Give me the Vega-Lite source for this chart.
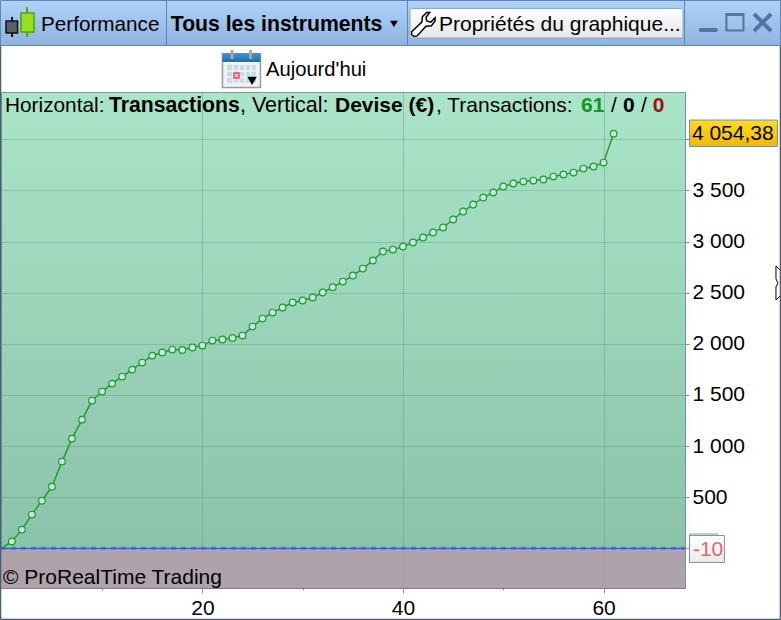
{
"$schema":"https://vega.github.io/schema/vega-lite/v6.json",
"width":684,"height":496,
"autosize":{"type":"none"},
"padding":{"left":1,"top":92,"right":96,"bottom":32},
"background":"#ffffff",
"data":{"values":[{"k":1}]},
"config":{"font":"Liberation Sans","text":{"font":"Liberation Sans","fontSize":21,"baseline":"alphabetic","align":"left","color":"#000000"},
 "view":{"stroke":"#74a08f","fill":{"gradient":"linear","x1":0,"y1":0,"x2":0,"y2":1,"stops":[{"offset":0,"color":"#aae4c9"},{"offset":1,"color":"#87c0a6"}]}}},
"datasets":{"equity":[
{"n":0,"v":0},{"n":1,"v":68},{"n":2,"v":183},{"n":3,"v":330},{"n":4,"v":466},{"n":5,"v":603},{"n":6,"v":848},{"n":7,"v":1073},{"n":8,"v":1259},{"n":9,"v":1445},{"n":10,"v":1533},{"n":11,"v":1611},{"n":12,"v":1680},{"n":13,"v":1748},{"n":14,"v":1817},{"n":15,"v":1885},{"n":16,"v":1915},{"n":17,"v":1944},{"n":18,"v":1940},{"n":19,"v":1964},{"n":20,"v":1983},{"n":21,"v":2032},{"n":22,"v":2042},{"n":23,"v":2058},{"n":24,"v":2081},{"n":25,"v":2169},{"n":26,"v":2247},{"n":27,"v":2306},{"n":28,"v":2355},{"n":29,"v":2404},{"n":30,"v":2424},{"n":31,"v":2453},{"n":32,"v":2502},{"n":33,"v":2554},{"n":34,"v":2609},{"n":35,"v":2668},{"n":36,"v":2736},{"n":37,"v":2815},{"n":38,"v":2903},{"n":39,"v":2922},{"n":40,"v":2952},{"n":41,"v":2991},{"n":42,"v":3040},{"n":43,"v":3089},{"n":44,"v":3138},{"n":45,"v":3216},{"n":46,"v":3294},{"n":47,"v":3363},{"n":48,"v":3431},{"n":49,"v":3480},{"n":50,"v":3539},{"n":51,"v":3568},{"n":52,"v":3587},{"n":53,"v":3597},{"n":54,"v":3607},{"n":55,"v":3636},{"n":56,"v":3656},{"n":57,"v":3675},{"n":58,"v":3714},{"n":59,"v":3734},{"n":60,"v":3773},{"n":61,"v":4054.38}]},
"layer":[
{"mark":{"type":"rect","fill":"#b69eac","opacity":0.85},"encoding":{
 "x":{"datum":-0.08,"type":"quantitative","title":null,"scale":{"domain":[-0.08,68.12],"nice":false,"zero":false},
  "axis":{"title":null,"orient":"bottom","values":[10,20,30,40,50,60],"grid":true,"gridColor":"#5f8f80","gridOpacity":{"condition":{"test":"datum.value%20==0","value":0.4},"value":0},
   "domainColor":"#857a82","tickColor":"#8a9aa0","tickSize":{"condition":{"test":"datum.value%20==0","value":5},"value":2},"labelFontSize":21,"labelColor":"#000000","labelPadding":4,"labelExpr":"datum.value%20==0?datum.label:''","labelOverlap":false,"labelFlush":false,"labelBound":false}},
 "x2":{"datum":68.12},
 "y":{"datum":-388,"type":"quantitative","title":null,"scale":{"domain":[-388,4463],"nice":false,"zero":false},
  "axis":{"title":null,"orient":"right","values":[500,1000,1500,2000,2500,3000,3500,4000],"grid":true,"gridColor":"#5f8f80","gridOpacity":0.35,
   "domainColor":"#6f9b8a","tickColor":"#6f9b8a","tickSize":4,"labelFontSize":21,"labelColor":"#000000","labelPadding":3,"labelExpr":"datum.value==4000?'':replace(format(datum.value,','),',',' ')","labelOverlap":false,"labelFlush":false,"labelBound":false}},
 "y2":{"datum":0}}},
{"mark":{"type":"rule","stroke":"#2fa35a","strokeWidth":1,"strokeDash":[5,5]},"encoding":{"x":{"datum":-0.08,"type":"quantitative"},"x2":{"datum":68.12},"y":{"datum":10,"type":"quantitative"}}},
{"mark":{"type":"rule","stroke":"#e0566a","strokeWidth":1,"strokeDash":[5,5]},"encoding":{"x":{"datum":-0.08,"type":"quantitative"},"x2":{"datum":68.12},"y":{"datum":-10,"type":"quantitative"}}},
{"mark":{"type":"rule","stroke":"#2a3de8","strokeWidth":1},"encoding":{"x":{"datum":-0.08,"type":"quantitative"},"x2":{"datum":68.12},"y":{"datum":0,"type":"quantitative"}}},
{"data":{"name":"equity"},"mark":{"type":"line","stroke":"#1a9e28","strokeWidth":1.4},"encoding":{"x":{"field":"n","type":"quantitative"},"y":{"field":"v","type":"quantitative"}}},
{"data":{"name":"equity"},"transform":[{"filter":"datum.n>0"}],"mark":{"type":"point","filled":false,"fill":"#cbe5e5","fillOpacity":1,"stroke":"#1a9e28","strokeWidth":1.2,"size":44,"opacity":1},"encoding":{"x":{"field":"n","type":"quantitative"},"y":{"field":"v","type":"quantitative"}}},

{"mark":{"type":"text","text":"© ProRealTime Trading","fontSize":21},"encoding":{"x":{"datum":0.12,"type":"quantitative"},"y":{"datum":-349,"type":"quantitative"}}},
{"mark":{"type":"text","text":"Horizontal:","fontSize":20.8},"encoding":{"x":{"datum":0.32,"type":"quantitative"},"y":{"datum":4267,"type":"quantitative"}}},
{"mark":{"type":"text","text":"Transactions","fontWeight":"bold","fontSize":21.2},"encoding":{"x":{"datum":10.69,"type":"quantitative"},"y":{"datum":4267,"type":"quantitative"}}},
{"mark":{"type":"text","text":", Vertical:","fontSize":21.5},"encoding":{"x":{"datum":23.75,"type":"quantitative"},"y":{"datum":4267,"type":"quantitative"}}},
{"mark":{"type":"text","text":"Devise (€)","fontWeight":"bold"},"encoding":{"x":{"datum":33.22,"type":"quantitative"},"y":{"datum":4267,"type":"quantitative"}}},
{"mark":{"type":"text","text":", Transactions:"},"encoding":{"x":{"datum":43.29,"type":"quantitative"},"y":{"datum":4267,"type":"quantitative"}}},
{"mark":{"type":"text","text":"61","fontWeight":"bold","color":"#0a9a1e"},"encoding":{"x":{"datum":57.75,"type":"quantitative"},"y":{"datum":4267,"type":"quantitative"}}},
{"mark":{"type":"text","text":"/"},"encoding":{"x":{"datum":60.74,"type":"quantitative"},"y":{"datum":4267,"type":"quantitative"}}},
{"mark":{"type":"text","text":"0","fontWeight":"bold"},"encoding":{"x":{"datum":61.93,"type":"quantitative"},"y":{"datum":4267,"type":"quantitative"}}},
{"mark":{"type":"text","text":"/"},"encoding":{"x":{"datum":63.73,"type":"quantitative"},"y":{"datum":4267,"type":"quantitative"}}},
{"mark":{"type":"text","text":"0","fontWeight":"bold","color":"#a01010"},"encoding":{"x":{"datum":64.9,"type":"quantitative"},"y":{"datum":4267,"type":"quantitative"}}},

{"mark":{"type":"rect","stroke":"#7f8f99","strokeWidth":1,"fill":{"gradient":"linear","x1":0,"y1":0,"x2":0,"y2":1,"stops":[{"offset":0,"color":"#ffdc1e"},{"offset":1,"color":"#f2b800"}]}},"encoding":{"x":{"datum":68.57,"type":"quantitative"},"x2":{"datum":77.34},"y":{"datum":4189,"type":"quantitative"},"y2":{"datum":3930}}},
{"mark":{"type":"text","text":"4 054,38"},"encoding":{"x":{"datum":68.81,"type":"quantitative"},"y":{"datum":3989,"type":"quantitative"}}},
{"mark":{"type":"rule","stroke":"#7f9099"},"encoding":{"x":{"datum":68.11,"type":"quantitative"},"x2":{"datum":68.57},"y":{"datum":0,"type":"quantitative"}}},
{"mark":{"type":"rect","stroke":"#8a9aa5","fill":"#ffffff"},"encoding":{"x":{"datum":68.57,"type":"quantitative"},"x2":{"datum":71.36},"y":{"datum":140,"type":"quantitative"},"y2":{"datum":32}}},
{"mark":{"type":"rect","stroke":"#7f9099","fill":{"gradient":"linear","x1":0,"y1":0,"x2":0,"y2":1,"stops":[{"offset":0,"color":"#ffffff"},{"offset":1,"color":"#ebebeb"}]}},"encoding":{"x":{"datum":68.57,"type":"quantitative"},"x2":{"datum":72.05},"y":{"datum":126,"type":"quantitative"},"y2":{"datum":-138}}},
{"mark":{"type":"text","text":"-10","color":"#e8636b"},"encoding":{"x":{"datum":68.91,"type":"quantitative"},"y":{"datum":-75,"type":"quantitative"}}},

{"mark":{"type":"rect","stroke":"#5f85b5","strokeWidth":1,"fill":{"gradient":"linear","x1":0,"y1":0,"x2":0,"y2":1,"stops":[{"offset":0,"color":"#b0d2fa"},{"offset":1,"color":"#8fb3df"}]}},"encoding":{"x":{"datum":-0.13,"type":"quantitative"},"x2":{"datum":77.64},"y":{"datum":5358,"type":"quantitative"},"y2":{"datum":4918}}},
{"mark":{"type":"rule","stroke":"#5f85b5"},"encoding":{"x":{"datum":16.42,"type":"quantitative"},"y":{"datum":5358,"type":"quantitative"},"y2":{"datum":4918}}},
{"mark":{"type":"rule","stroke":"#5f85b5"},"encoding":{"x":{"datum":40.45,"type":"quantitative"},"y":{"datum":5358,"type":"quantitative"},"y2":{"datum":4918}}},
{"mark":{"type":"rule","stroke":"#5f85b5"},"encoding":{"x":{"datum":68.07,"type":"quantitative"},"y":{"datum":5358,"type":"quantitative"},"y2":{"datum":4918}}},
{"mark":{"type":"rect","stroke":"#8aa8c8","cornerRadius":2,"fill":{"gradient":"linear","x1":0,"y1":0,"x2":0,"y2":1,"stops":[{"offset":0,"color":"#ffffff"},{"offset":1,"color":"#e6e6e6"}]}},"encoding":{"x":{"datum":40.7,"type":"quantitative"},"x2":{"datum":67.92},"y":{"datum":5280,"type":"quantitative"},"y2":{"datum":4991}}},
{"mark":{"type":"rule","stroke":"#111111","strokeWidth":2},"encoding":{"x":{"datum":1.02,"type":"quantitative"},"y":{"datum":5197,"type":"quantitative"},"y2":{"datum":5001}}},
{"mark":{"type":"rect","stroke":"#111111","strokeWidth":1.5,"fill":"#5a6068"},"encoding":{"x":{"datum":0.42,"type":"quantitative"},"x2":{"datum":1.57},"y":{"datum":5157,"type":"quantitative"},"y2":{"datum":5040}}},
{"mark":{"type":"rule","stroke":"#5aa00f","strokeWidth":2},"encoding":{"x":{"datum":2.51,"type":"quantitative"},"y":{"datum":5294,"type":"quantitative"},"y2":{"datum":5001}}},
{"mark":{"type":"rect","stroke":"#5aa00f","strokeWidth":1.5,"fill":"#93e020"},"encoding":{"x":{"datum":1.91,"type":"quantitative"},"x2":{"datum":3.21},"y":{"datum":5236,"type":"quantitative"},"y2":{"datum":5050}}},
{"mark":{"type":"text","text":"Performance","fontSize":20.7},"encoding":{"x":{"datum":3.91,"type":"quantitative"},"y":{"datum":5060,"type":"quantitative"}}},
{"mark":{"type":"text","text":"Tous les instruments","fontWeight":"bold","fontSize":21.2},"encoding":{"x":{"datum":16.85,"type":"quantitative"},"y":{"datum":5060,"type":"quantitative"}}},
{"mark":{"type":"point","shape":"triangle-down","filled":true,"fill":"#000000","size":60,"opacity":1},"encoding":{"x":{"datum":39.1,"type":"quantitative"},"y":{"datum":5128,"type":"quantitative"}}},
{"mark":{"type":"point","shape":"M.3,-1 L-.05,-.65 L-.1,-.2 L-.95,.6 L-.95,.85 L-.75,1 L-.5,.95 L.25,.15 L.7,.1 L1,-.3 L1,-.55 L.65,-.2 L.3,-.3 L.25,-.6 L.55,-1 Z","filled":false,"fill":"#ffffff","fillOpacity":1,"stroke":"#000000","strokeWidth":1.5,"size":576,"opacity":1},"encoding":{"x":{"datum":42.0,"type":"quantitative"},"y":{"datum":5123,"type":"quantitative"}}},
{"mark":{"type":"text","text":"Propriétés du graphique..."},"encoding":{"x":{"datum":43.59,"type":"quantitative"},"y":{"datum":5060,"type":"quantitative"}}},
{"mark":{"type":"rule","stroke":"#4f76a3","strokeWidth":4,"strokeCap":"round"},"encoding":{"x":{"datum":69.7,"type":"quantitative"},"x2":{"datum":71.2},"y":{"datum":5069,"type":"quantitative"}}},
{"mark":{"type":"rect","stroke":"#4f76a3","strokeWidth":2,"fill":"#a5c6ee","fillOpacity":0.4},"encoding":{"x":{"datum":72.25,"type":"quantitative"},"x2":{"datum":73.95},"y":{"datum":5226,"type":"quantitative"},"y2":{"datum":5064}}},
{"mark":{"type":"rule","stroke":"#4f76a3","strokeWidth":3},"encoding":{"x":{"datum":72.25,"type":"quantitative"},"x2":{"datum":73.95},"y":{"datum":5221,"type":"quantitative"}}},
{"mark":{"type":"rule","stroke":"#4f76a3","strokeWidth":4},"encoding":{"x":{"datum":75.0,"type":"quantitative"},"x2":{"datum":76.7},"y":{"datum":5226,"type":"quantitative"},"y2":{"datum":5060}}},
{"mark":{"type":"rule","stroke":"#4f76a3","strokeWidth":4},"encoding":{"x":{"datum":75.0,"type":"quantitative"},"x2":{"datum":76.7},"y":{"datum":5060,"type":"quantitative"},"y2":{"datum":5226}}},

{"mark":{"type":"rect","stroke":"#9a9a9a","strokeWidth":1.5,"fill":"#f0f2f4"},"encoding":{"x":{"datum":22.0,"type":"quantitative"},"x2":{"datum":25.79},"y":{"datum":4835,"type":"quantitative"},"y2":{"datum":4507}}},
{"mark":{"type":"rect","fill":{"gradient":"linear","x1":0,"y1":0,"x2":0,"y2":1,"stops":[{"offset":0,"color":"#3a97d8"},{"offset":1,"color":"#1a6fb0"}]}},"encoding":{"x":{"datum":22.0,"type":"quantitative"},"x2":{"datum":25.79},"y":{"datum":4844,"type":"quantitative"},"y2":{"datum":4756}}},
{"mark":{"type":"rect","fill":"#c8dcec"},"encoding":{"x":{"datum":22.45,"type":"quantitative"},"x2":{"datum":25.34},"y":{"datum":4727,"type":"quantitative"},"y2":{"datum":4551}}},
{"mark":{"type":"rule","stroke":"#ffffff"},"encoding":{"x":{"datum":23.05,"type":"quantitative"},"y":{"datum":4727,"type":"quantitative"},"y2":{"datum":4551}}},
{"mark":{"type":"rule","stroke":"#ffffff"},"encoding":{"x":{"datum":23.65,"type":"quantitative"},"y":{"datum":4727,"type":"quantitative"},"y2":{"datum":4551}}},
{"mark":{"type":"rule","stroke":"#ffffff"},"encoding":{"x":{"datum":24.25,"type":"quantitative"},"y":{"datum":4727,"type":"quantitative"},"y2":{"datum":4551}}},
{"mark":{"type":"rule","stroke":"#ffffff"},"encoding":{"x":{"datum":24.84,"type":"quantitative"},"y":{"datum":4727,"type":"quantitative"},"y2":{"datum":4551}}},
{"mark":{"type":"rule","stroke":"#ffffff"},"encoding":{"x":{"datum":22.45,"type":"quantitative"},"x2":{"datum":25.34},"y":{"datum":4668,"type":"quantitative"}}},
{"mark":{"type":"rule","stroke":"#ffffff"},"encoding":{"x":{"datum":22.45,"type":"quantitative"},"x2":{"datum":25.34},"y":{"datum":4610,"type":"quantitative"}}},
{"mark":{"type":"rule","stroke":"#a8a8a8","strokeWidth":3},"encoding":{"x":{"datum":22.95,"type":"quantitative"},"y":{"datum":4874,"type":"quantitative"},"y2":{"datum":4786}}},
{"mark":{"type":"rule","stroke":"#a8a8a8","strokeWidth":3},"encoding":{"x":{"datum":24.8,"type":"quantitative"},"y":{"datum":4874,"type":"quantitative"},"y2":{"datum":4786}}},
{"mark":{"type":"rect","stroke":"#f05060","strokeWidth":1.5,"fill":"#f8c0c8"},"encoding":{"x":{"datum":23.15,"type":"quantitative"},"x2":{"datum":23.65},"y":{"datum":4649,"type":"quantitative"},"y2":{"datum":4600}}},
{"mark":{"type":"point","shape":"triangle-down","filled":true,"fill":"#000000","size":90,"opacity":1},"encoding":{"x":{"datum":24.95,"type":"quantitative"},"y":{"datum":4571,"type":"quantitative"}}},
{"mark":{"type":"text","text":"Aujourd'hui","fontSize":20.2},"encoding":{"x":{"datum":26.34,"type":"quantitative"},"y":{"datum":4620,"type":"quantitative"}}},

{"mark":{"type":"point","shape":"M0,-.425 L.2,-.225 L.2,.225 L0,.425 L0,.1 L.05,0 L0,-.1 Z","filled":false,"fill":"#ffffff","fillOpacity":1,"stroke":"#000000","strokeWidth":1,"size":6400,"opacity":1},"encoding":{"x":{"datum":77.19,"type":"quantitative"},"y":{"datum":2595,"type":"quantitative"}}},
{"mark":{"type":"rule","stroke":"#46606f","strokeWidth":1.5},"encoding":{"x":{"datum":-0.13,"type":"quantitative"},"y":{"datum":4918,"type":"quantitative"},"y2":{"datum":-696}}},
{"mark":{"type":"rule","stroke":"#46606f","strokeWidth":1.5},"encoding":{"x":{"datum":77.64,"type":"quantitative"},"y":{"datum":4918,"type":"quantitative"},"y2":{"datum":-696}}},
{"mark":{"type":"rule","stroke":"#46606f","strokeWidth":1.5},"encoding":{"x":{"datum":-0.13,"type":"quantitative"},"x2":{"datum":77.64},"y":{"datum":-696,"type":"quantitative"}}}
]
}
